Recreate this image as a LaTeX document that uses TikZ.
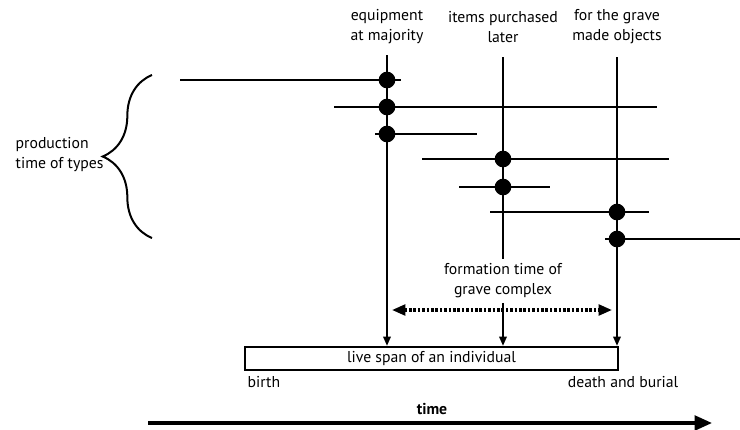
\documentclass[tikz,border=0pt]{standalone}
\usepackage{fontspec}
\setmainfont{PT Sans}
\usetikzlibrary{arrows.meta,decorations.pathreplacing}

\begin{document}
\begin{tikzpicture}[x=0.75pt,y=-0.75pt]
  \useasboundingbox (0,0) rectangle (740,429);

  \tikzstyle{every node}=[font=\fontsize{11.8}{15}\selectfont,align=center]
  \tikzstyle{dot}=[circle,fill=black,inner sep=0pt,minimum size=12.5pt]
  \tikzstyle{span}=[line width=1.6pt]
  \tikzstyle{down}=[line width=1.6pt,-{Triangle[length=7pt,width=5.5pt]}]

  \node (eq) at (387,27) {equipment\\at majority};
  \node (it) at (503,27) {items purchased\\later};
  \node (gr) at (617,27) {for the grave\\made objects};
  \coordinate (t1) at (387,55);
  \coordinate (t2) at (503,57);
  \coordinate (t3) at (617,57);

  \node[draw,line width=1.6pt,minimum width=279.75pt,minimum height=17.25pt,inner sep=0pt] (life)
    at (431.5,358.5) {live span of an individual};
  \node[anchor=west] (birth) at (243,382) {birth};
  \node[anchor=east] (death) at (683,382) {death and burial};

  \node (form) at (503,281) {formation time of\\grave complex};

  \draw[down] (t1) -- (t1 |- life.north);
  \draw[span] (t2) -- (form.north);
  \draw[down] (form.south) -- (t2 |- life.north);
  \draw[down] (t3) -- (t3 |- life.north);

  % production times of the types
  \foreach \n/\y/\a/\b/\x in {1/80/180/401/387, 2/107/334/657/387, 3/134/375/477/387,
    4/159/422/669/503, 5/187/459/550/503, 6/212/490/649/617, 7/239/605/740/617} {
    \coordinate (a\n) at (\a,\y);
    \coordinate (b\n) at (\b,\y);
    \draw[span] (a\n) -- (b\n);
    \node[dot] (d\n) at (\x,\y) {};
  }

  \coordinate (f1) at (392,310);
  \coordinate (f2) at (612,310);
  \draw[line width=2.3pt,dash pattern=on 2pt off 1.3pt,
    {Triangle[length=10pt,width=8pt]}-{Triangle[length=10pt,width=8pt]}] (f1) -- (f2);

  \draw[line width=1.5pt,decorate,decoration={brace,amplitude=37pt}] (152,238) -- (152,75);
  \node[anchor=west,align=left] (prod) at (11,155) {production\\time of types};

  \coordinate (ta) at (148,423);
  \coordinate (tb) at (712,423);
  \draw[line width=2.4pt,-{Triangle[length=13pt,width=11pt]}] (ta) -- (tb);
  \node[font=\fontsize{11.8}{15}\selectfont\bfseries] (time) at (432,409) {time};
\end{tikzpicture}
\end{document}
